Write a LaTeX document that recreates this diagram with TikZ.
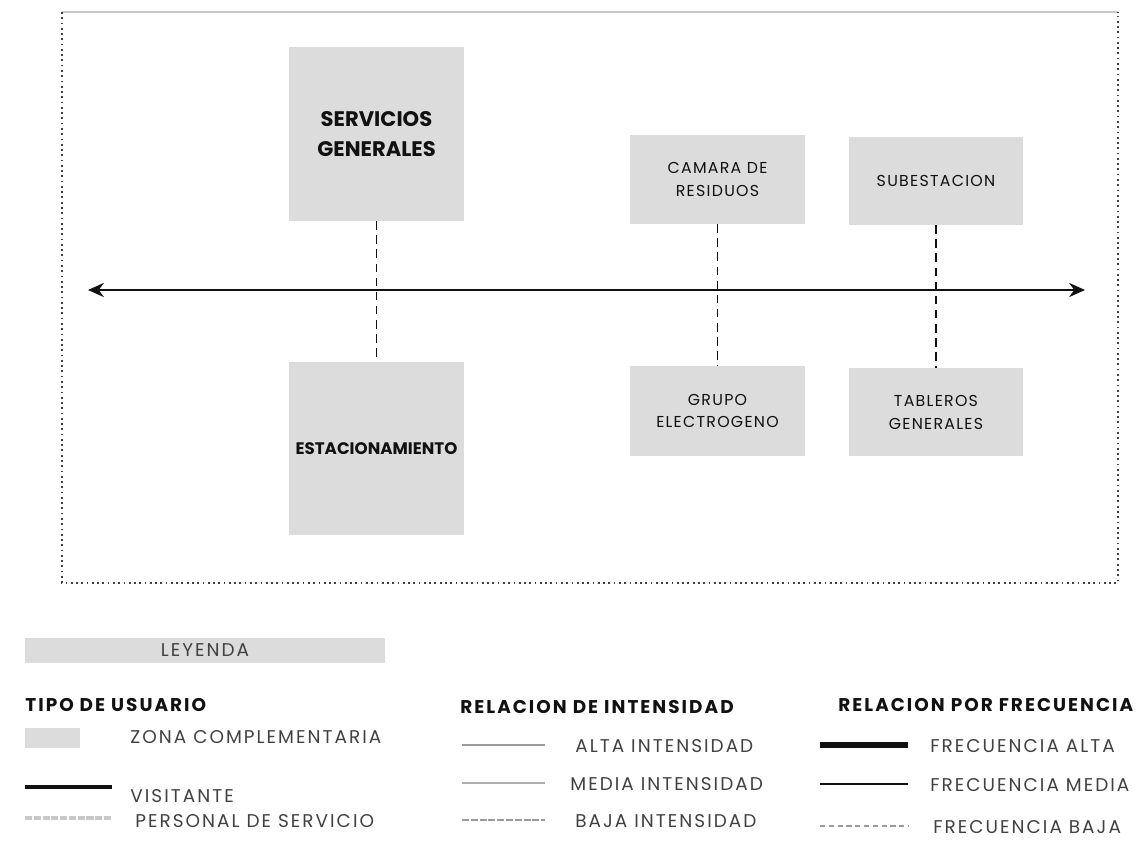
\documentclass[tikz,border=0pt]{standalone}
\usepackage{fontspec}
\setmainfont{Poppins}
\newfontfamily\zonafont[LetterSpace=8]{Poppins}
\newfontfamily\leyfont[LetterSpace=11]{Poppins}
\usepackage{tikz}
\usetikzlibrary{positioning,arrows.meta,calc}
\definecolor{ink}     {HTML}{111111}
\definecolor{zonefill}{HTML}{DCDCDC}
\definecolor{softgray}{HTML}{9A9A9A}
\definecolor{pale}    {HTML}{C8C8C8}
\newcommand\leysize{\fontsize{10.5pt}{12pt}\selectfont}
\tikzset{
  every node/.style={font=\small},
  % --- nodes
  zona/.style   = {fill=zonefill, draw=none, align=center, inner sep=0pt,
                   text=ink, font=\zonafont\small,
                   execute at begin node=\setlength{\baselineskip}{1.45em}},
  zonabig/.style= {zona, font=\large\bfseries},
  head/.style   = {font=\leyfont\bfseries\leysize, text=ink, anchor=west, inner sep=0pt},
  item/.style   = {font=\leyfont\leysize, text=ink!80, anchor=west, inner sep=0pt},
  % --- edges
  eje/.style    = {{Stealth[length=9pt,width=8pt]}-{Stealth[length=9pt,width=8pt]}, line width=1.3pt, draw=ink},
  rel/.style    = {draw=ink, line width=1.1pt, dash pattern=on 5pt off 3pt},
  marco/.style  = {draw=ink!80, line width=1pt, dotted},
}
\begin{document}
\begin{tikzpicture}[x=0.02cm,y=-0.02cm]
  \useasboundingbox (0,0) rectangle (1142,849);
  % --- marco
  \draw[pale, line width=0.6pt] (62,12) -- (1118,12);
  \draw[marco] (62,12) -- (62,583) -- (1118,583) -- (1118,12);
  % --- zonas
  \node[zonabig, minimum width=175*0.02cm, minimum height=174*0.02cm] (sg) at (376.5,134) {SERVICIOS\\GENERALES};
  \node[zona, font=\bfseries\fontsize{9.5pt}{11pt}\selectfont, minimum width=175*0.02cm, minimum height=173*0.02cm] (est) at (376.5,448.5) {ESTACIONAMIENTO};
  \node[zona, minimum width=175*0.02cm, minimum height=89*0.02cm] (cam) at (717.5,179.5) {CAMARA DE\\RESIDUOS};
  \node[zona, minimum width=174*0.02cm, minimum height=88*0.02cm] (sub) at (936,181) {SUBESTACION};
  \node[zona, minimum width=175*0.02cm, minimum height=90*0.02cm] (gru) at (717.5,411) {GRUPO\\ELECTROGENO};
  \node[zona, minimum width=174*0.02cm, minimum height=88*0.02cm] (tab) at (936,412) {TABLEROS\\GENERALES};
  % --- eje
  \coordinate (izq) at (88,290);
  \coordinate (der) at (1085,290);
  \draw[eje] (izq) -- (der);
  \draw[rel] (sg) -- (est);
  \draw[rel] (cam) -- (gru);
  \draw[rel] (sub) -- (tab);
  % --- leyenda
  \node[fill=zonefill, minimum width=360*0.02cm, minimum height=25*0.02cm, inner sep=0pt] (ley) at (205,650) {};
  \node[font=\leyfont\leysize, text=ink!80] at (ley) {LEYENDA};
  \node[head] (tipo) at (25,705) {TIPO DE USUARIO};
  \fill[zonefill] (25,728) rectangle (80,748);
  \node[item] (zc) at (130,737) {ZONA COMPLEMENTARIA};
  \draw[ink, line width=2pt] (25,787) -- (112,787);
  \node[item] (vis) at (130,796) {VISITANTE};
  \draw[pale, line width=2pt, dash pattern=on 4pt off 1pt] (25,818) -- (112,818);
  \node[item] (per) at (135,821) {PERSONAL DE SERVICIO};
  \node[head] (inten) at (460,707) {RELACION DE INTENSIDAD};
  \draw[softgray, line width=1.6pt] (462,745) -- (545,745);
  \node[item] at (575,746) {ALTA INTENSIDAD};
  \draw[softgray!80, line width=1.1pt] (462,783) -- (545,783);
  \node[item] at (570,784) {MEDIA INTENSIDAD};
  \draw[softgray, line width=1.1pt, dash pattern=on 4pt off 1pt] (462,820) -- (545,820);
  \node[item] at (575,821) {BAJA INTENSIDAD};
  \node[head] (frec) at (838,705) {RELACION POR FRECUENCIA};
  \draw[ink, line width=3pt] (820,745) -- (908,745);
  \node[item] at (930,746) {FRECUENCIA ALTA};
  \draw[ink, line width=1.6pt] (820,784) -- (908,784);
  \node[item] at (930,785) {FRECUENCIA MEDIA};
  \draw[softgray, line width=0.6pt, dash pattern=on 3pt off 2pt] (820,826) -- (908,826);
  \node[item] at (933,827) {FRECUENCIA BAJA};
\end{tikzpicture}
\end{document}
